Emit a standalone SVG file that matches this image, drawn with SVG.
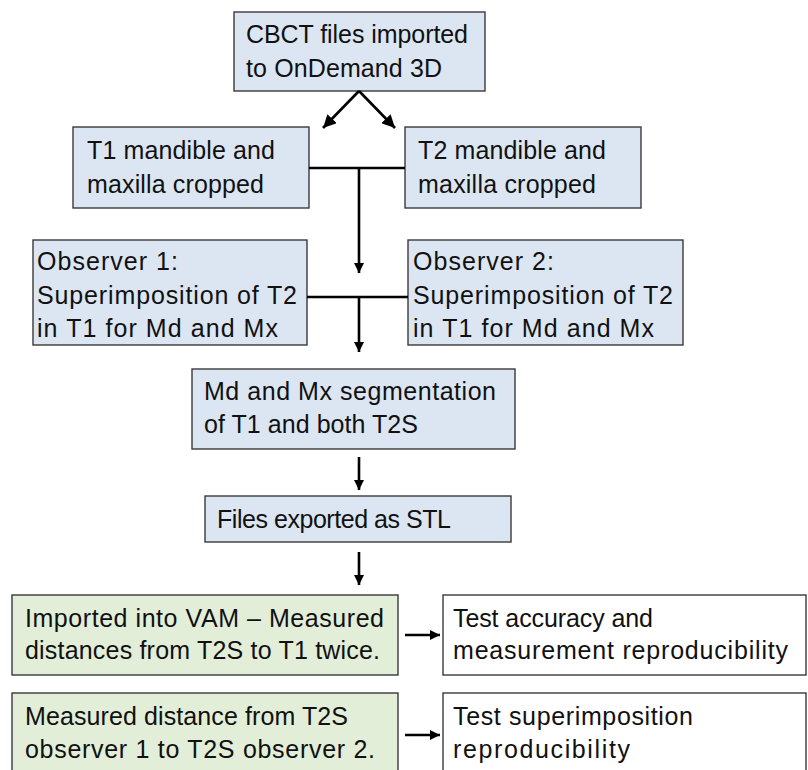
<svg xmlns="http://www.w3.org/2000/svg" width="808" height="770" viewBox="0 0 808 770">
<style>
.b{fill:#dce6f2;stroke:#3a3a3a;stroke-width:1.4}
.g{fill:#e3eed9;stroke:#3a3a3a;stroke-width:1.4}
.w{fill:#ffffff;stroke:#3a3a3a;stroke-width:1.4}
text{font-family:"Liberation Sans",Arial,sans-serif;font-size:25px;fill:#111}
.c line,.c path{stroke:#000;stroke-width:2.6;fill:none}
</style>
<defs>
<marker id="ah" markerUnits="userSpaceOnUse" viewBox="0 0 10 10" refX="10" refY="5" markerWidth="13" markerHeight="13" orient="auto">
<path d="M0,0 L10,5 L0,10 Z" fill="#000"/>
</marker>
<marker id="ahs" markerUnits="userSpaceOnUse" viewBox="0 0 10 10" refX="10" refY="5" markerWidth="10" markerHeight="10" orient="auto">
<path d="M0,0 L10,5 L0,10 Z" fill="#000"/>
</marker>
</defs>
<g id="n1"><rect class="b" x="234" y="12" width="251" height="79"/>
<text x="246" y="43" textLength="222">CBCT files imported</text>
<text x="246" y="77" textLength="196">to OnDemand 3D</text></g>
<g id="n2"><rect class="b" x="73" y="127" width="236" height="81"/>
<text x="87" y="159" textLength="188">T1 mandible and</text>
<text x="87" y="193" textLength="177">maxilla cropped</text></g>
<g id="n3"><rect class="b" x="405" y="127" width="236" height="81"/>
<text x="418" y="159" textLength="188">T2 mandible and</text>
<text x="418" y="193" textLength="178">maxilla cropped</text></g>
<g id="n4"><rect class="b" x="33" y="240" width="274" height="105"/>
<text x="37" y="270" textLength="141">Observer 1:</text>
<text x="37" y="304" textLength="260">Superimposition of T2</text>
<text x="37" y="337" textLength="241">in T1 for Md and Mx</text></g>
<g id="n5"><rect class="b" x="408" y="240" width="275" height="105"/>
<text x="413" y="270" textLength="141">Observer 2:</text>
<text x="413" y="304" textLength="260">Superimposition of T2</text>
<text x="413" y="337" textLength="241">in T1 for Md and Mx</text></g>
<g id="n6"><rect class="b" x="192" y="369" width="323" height="80"/>
<text x="204" y="400" textLength="292">Md and Mx segmentation</text>
<text x="204" y="433" textLength="214">of T1 and both T2S</text></g>
<g id="n7"><rect class="b" x="205" y="496" width="306" height="46"/>
<text x="217" y="528" textLength="234">Files exported as STL</text></g>
<g id="n8"><rect class="g" x="12" y="595" width="386" height="80"/>
<text x="25" y="627" textLength="359">Imported into VAM – Measured</text>
<text x="25" y="659" textLength="355">distances from T2S to T1 twice.</text></g>
<g id="n9"><rect class="w" x="443" y="595" width="363" height="80"/>
<text x="453" y="627" textLength="200">Test accuracy and</text>
<text x="453" y="659" textLength="335">measurement reproducibility</text></g>
<g id="n10"><rect class="g" x="12" y="693" width="386" height="90"/>
<text x="25" y="725" textLength="323">Measured distance from T2S</text>
<text x="25" y="758" textLength="350">observer 1 to T2S observer 2.</text></g>
<g id="n11"><rect class="w" x="443" y="693" width="363" height="90"/>
<text x="453" y="725" textLength="240">Test superimposition</text>
<text x="453" y="758" textLength="177">reproducibility</text></g>
<g id="connectors" class="c">
<line x1="359" y1="91" x2="323" y2="128" marker-end="url(#ah)"/>
<line x1="359" y1="91" x2="395" y2="128" marker-end="url(#ah)"/>
<line x1="309" y1="168" x2="405" y2="168"/>
<line x1="359" y1="168" x2="359" y2="273" marker-end="url(#ahs)"/>
<line x1="307" y1="297" x2="408" y2="297"/>
<line x1="359" y1="297" x2="359" y2="352" marker-end="url(#ahs)"/>
<line x1="359" y1="457" x2="359" y2="490" marker-end="url(#ahs)"/>
<line x1="359" y1="552" x2="359" y2="585" marker-end="url(#ahs)"/>
<line x1="405" y1="635" x2="440" y2="635" marker-end="url(#ahs)"/>
<line x1="405" y1="735" x2="440" y2="735" marker-end="url(#ahs)"/>
</g>
</svg>
